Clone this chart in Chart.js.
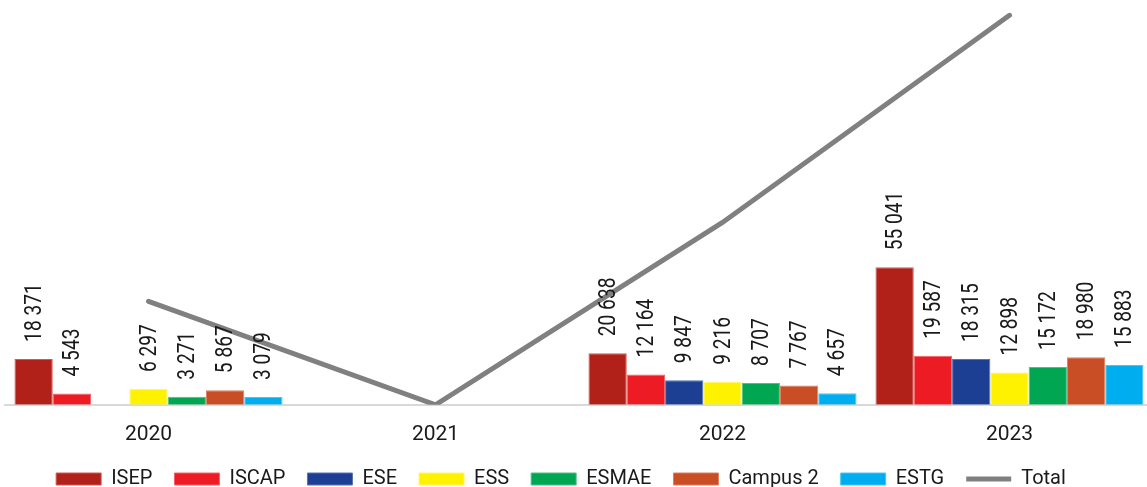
<!DOCTYPE html>
<html>
<head>
<meta charset="utf-8">
<script src="https://cdn.jsdelivr.net/npm/chart.js@4"></script>
<style>
  html, body { margin: 0; padding: 0; background: #fff; overflow: hidden; }
  #wrap { position: relative; width: 1153px; height: 487px; }
</style>
</head>
<body>
<div id="wrap"><canvas id="myChart"></canvas></div>
<script>
const years = ['2020', '2021', '2022', '2023'];

const isep = [18371, null, 20638, 55041];
const iscap = [4543, null, 12164, 19587];
const ese = [null, null, 9847, 18315];
const ess = [6297, null, 9216, 12898];
const esmae = [3271, null, 8707, 15172];
const campus2 = [5867, null, 7767, 18980];
const estg = [3079, null, 4657, 15883];
const total = [41428, 0, 72996, 155876];

const fontFam = 'Roboto, "Open Sans", sans-serif';
const textCol = '#1a1a1a';

// numbers like "18 371"
function fmt(v) {
    return String(v).replace(/\B(?=(\d{3})+(?!\d))/g, ' ');
}

// labels on top of the bars, turned 90 degrees
const barLabels = {
    id: 'barLabels',
    beforeInit(chart) {
        // pull the legend a bit closer to the bottom edge
        const fit = chart.legend.fit;
        chart.legend.fit = function () {
            fit.bind(chart.legend)();
            this.height -= 12;
        };
    },
    afterLayout(chart) {
        // legend sits a little left of centre in the original
        chart.legend.left -= 18;
        chart.legend.right -= 18;
    },
    afterDatasetsDraw(chart) {
        const ctx = chart.ctx;
        ctx.save();
        ctx.font = '24px ' + fontFam;
        ctx.fillStyle = textCol;
        ctx.textAlign = 'left';
        ctx.textBaseline = 'middle';
        chart.data.datasets.forEach((ds, i) => {
            if (ds.type === 'line') return;
            const meta = chart.getDatasetMeta(i);
            meta.data.forEach((bar, j) => {
                const v = ds.data[j];
                if (v == null) return;
                ctx.save();
                ctx.translate(bar.x, bar.y - 17);
                ctx.rotate(-Math.PI / 2);
                ctx.scale(0.8, 1);
                ctx.fillText(fmt(v), 0, 1);
                ctx.restore();
            });
        });
        ctx.restore();
    }
};

function barSet(label, data, color, edge) {
    return {
        type: 'bar',
        label: label,
        data: data,
        backgroundColor: color,
        borderColor: edge,
        borderWidth: 1,
        borderSkipped: 'bottom',
        pointStyle: 'rect',
        categoryPercentage: 0.934,
        barPercentage: 1
    };
}

const ctx = document.getElementById('myChart').getContext('2d');
const myChart = new Chart(ctx, {
    data: {
        labels: years,
        datasets: [
            barSet('ISEP', isep, '#B22119', '#cf5a52'),
            barSet('ISCAP', iscap, '#ED1C24', '#f2636a'),
            barSet('ESE', ese, '#1C3F94', '#5873b3'),
            barSet('ESS', ess, '#FFF200', '#fff66a'),
            barSet('ESMAE', esmae, '#00A651', '#4cc185'),
            barSet('Campus 2', campus2, '#C94D25', '#da8160'),
            barSet('ESTG', estg, '#00AEEF', '#4cc5f3'),
            {
                type: 'line',
                label: 'Total',
                data: total,
                borderColor: '#808080',
                backgroundColor: '#808080',
                borderWidth: 5,
                borderCapStyle: 'round',
                pointRadius: 0,
                pointStyle: 'line',
                tension: 0
            }
        ]
    },
    options: {
        responsive: true,
        maintainAspectRatio: false,
        animation: false,
        layout: { padding: { top: 10, left: 5, right: 0, bottom: 0 } },
        plugins: {
            tooltip: { enabled: false },
            legend: {
                position: 'bottom',
                labels: {
                    usePointStyle: true,
                    pointStyleWidth: 45,
                    boxHeight: 12,
                    padding: 22,
                    color: textCol,
                    font: { family: fontFam, size: 20 }
                }
            }
        },
        scales: {
            x: {
                offset: true,
                grid: { display: false },
                border: { display: true, color: '#d9d9d9', width: 2 },
                ticks: {
                    color: textCol,
                    padding: 9,
                    font: { family: fontFam, size: 21 }
                },
                afterFit(scale) {
                    scale.height -= 9;
                }
            },
            y: {
                display: false,
                min: 0,
                max: 158000
            }
        }
    },
    plugins: [barLabels]
});
</script>
</body>
</html>
